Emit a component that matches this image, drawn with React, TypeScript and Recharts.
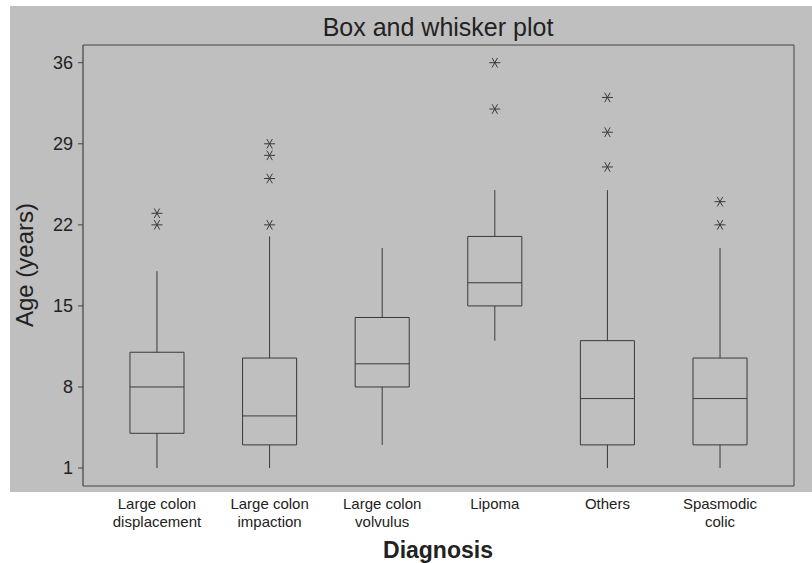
import React from "react";
import { ComposedChart, XAxis, YAxis, Scatter, ReferenceArea, ReferenceLine } from "recharts";

// one entry per diagnosis, left to right
const categories = [
  "Large colon\ndisplacement",
  "Large colon\nimpaction",
  "Large colon\nvolvulus",
  "Lipoma",
  "Others",
  "Spasmodic\ncolic",
];
const positions = [1, 2, 3, 4, 5, 6];
const whiskerLow = [1, 1, 3, 12, 1, 1];
const q1 = [4, 3, 8, 15, 3, 3];
const median = [8, 5.5, 10, 17, 7, 7];
const q3 = [11, 10.5, 14, 21, 12, 10.5];
const whiskerHigh = [18, 21, 20, 25, 25, 20];
const outliers = [[22, 23], [22, 26, 28, 29], [], [32, 36], [27, 30, 33], [22, 24]];
const yTicks = [1, 8, 15, 22, 29, 36];

const X_DOMAIN = [0.343, 6.657];
const Y_DOMAIN = [-0.55, 37.53];
const HALF = 0.24;
const LINE = "#3a3a3a";
const TEXT = "#222";
const FONT = '"Liberation Sans", Arial, Helvetica, sans-serif';

const outlierPoints = outliers.flatMap((vals, i) =>
  vals.map((v) => ({ x: positions[i], y: v }))
);

function Asterisk(props: any) {
  const { cx, cy } = props;
  const r = 5.5;
  return (
    <g>
      {[0, 60, 120].map((deg) => {
        const a = (deg * Math.PI) / 180;
        const dx = r * Math.cos(a);
        const dy = r * Math.sin(a);
        return (
          <line key={deg} x1={cx - dx} y1={cy - dy} x2={cx + dx} y2={cy + dy} stroke={LINE} strokeWidth={1} />
        );
      })}
    </g>
  );
}

function CategoryTick(props: any) {
  const { x, y, payload } = props;
  const idx = positions.indexOf(payload.value);
  if (idx < 0) return null;
  const lines = categories[idx].split("\n");
  return (
    <text textAnchor="middle" fontSize={15} fill={TEXT} fontFamily={FONT}>
      {lines.map((l, i) => (
        <tspan key={i} x={x} y={y + 23 + i * 18}>
          {l}
        </tspan>
      ))}
    </text>
  );
}

export default function App() {
  return (
    <div style={{ position: "absolute", left: 0, top: 0, width: 812, height: 563, background: "#fff" }}>
      <div style={{ position: "absolute", left: 10, top: 6, width: 802, height: 486, background: "#bfbfbf" }} />
      <div
        style={{
          position: "absolute",
          left: 0,
          top: 15,
          width: 876,
          textAlign: "center",
          fontFamily: FONT,
          fontSize: 25,
          lineHeight: "25px",
          color: TEXT,
        }}
      >
        Box and whisker plot
      </div>
      <div style={{ position: "absolute", left: 0, top: 0 }}>
        <ComposedChart width={812} height={563} margin={{ top: 45, right: 18, bottom: 0, left: 0 }}>
          <XAxis
            dataKey="x"
            type="number"
            domain={X_DOMAIN}
            allowDataOverflow
            ticks={positions}
            interval={0}
            height={77}
            axisLine={false}
            tickLine={false}
            tickSize={0}
            tickMargin={0}
            tick={<CategoryTick />}
            label={{
              content: () => (
                <text x={438} y={558} textAnchor="middle" fontSize={23} fontWeight="bold" fill={TEXT} fontFamily={FONT}>
                  Diagnosis
                </text>
              ),
            }}
          />
          <YAxis
            dataKey="y"
            type="number"
            domain={Y_DOMAIN}
            allowDataOverflow
            ticks={yTicks}
            interval={0}
            width={83}
            axisLine={{ stroke: "#666" }}
            tickLine={{ stroke: "#444" }}
            tickSize={5}
            tickMargin={5}
            tick={{ fontSize: 18, fill: TEXT, fontFamily: FONT }}
            label={{
              content: () => (
                <text
                  x={33}
                  y={265}
                  transform="rotate(-90, 33, 265)"
                  textAnchor="middle"
                  fontSize={24}
                  fill={TEXT}
                  fontFamily={FONT}
                >
                  Age (years)
                </text>
              ),
            }}
          />
          <ReferenceArea
            x1={X_DOMAIN[0]}
            x2={X_DOMAIN[1]}
            y1={Y_DOMAIN[0]}
            y2={Y_DOMAIN[1]}
            fill="none"
            stroke="#444"
            strokeWidth={1}
            ifOverflow="visible"
          />
          {positions.map((p, i) => (
            <ReferenceLine
              key={`lw-${i}`}
              segment={[{ x: p, y: whiskerLow[i] }, { x: p, y: q1[i] }]}
              stroke={LINE}
              strokeWidth={1}
            />
          ))}
          {positions.map((p, i) => (
            <ReferenceLine
              key={`hw-${i}`}
              segment={[{ x: p, y: q3[i] }, { x: p, y: whiskerHigh[i] }]}
              stroke={LINE}
              strokeWidth={1}
            />
          ))}
          {positions.map((p, i) => (
            <ReferenceArea
              key={`box-${i}`}
              x1={p - HALF}
              x2={p + HALF}
              y1={q1[i]}
              y2={q3[i]}
              fill="none"
              fillOpacity={0}
              stroke={LINE}
              strokeWidth={1}
            />
          ))}
          {positions.map((p, i) => (
            <ReferenceLine
              key={`med-${i}`}
              segment={[{ x: p - HALF, y: median[i] }, { x: p + HALF, y: median[i] }]}
              stroke={LINE}
              strokeWidth={1}
            />
          ))}
          <Scatter data={outlierPoints} dataKey="y" shape={<Asterisk />} isAnimationActive={false} />
        </ComposedChart>
      </div>
    </div>
  );
}
